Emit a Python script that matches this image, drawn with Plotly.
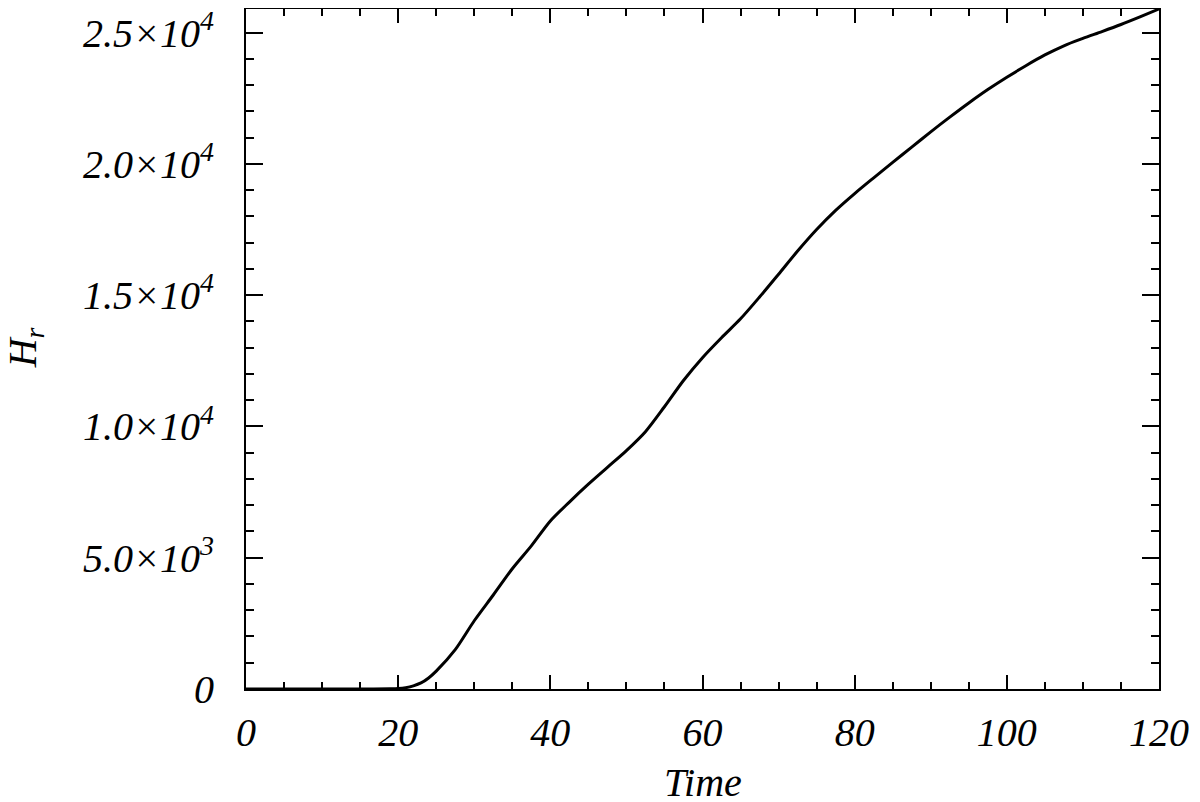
import plotly.graph_objects as go

time = [0, 5, 10, 15, 19, 20, 21, 22, 23, 24, 25, 27.5, 30, 32.5, 35, 37.5, 40,
        42.5, 45, 47.5, 50, 52.5, 55, 57.5, 60, 62.5, 65, 67.5, 70, 72.5, 75,
        77.5, 80, 82.5, 85, 87.5, 90, 92.5, 95, 97.5, 100, 102.5, 105, 107.5,
        110, 112.5, 115, 117.5, 120]
h_r = [0, 0, 0, 0, 5, 15, 50, 120, 230, 420, 680, 1500, 2600, 3580, 4580, 5450,
       6400, 7120, 7800, 8440, 9080, 9800, 10750, 11750, 12620, 13380, 14100,
       14930, 15800, 16680, 17500, 18230, 18870, 19470, 20060, 20640, 21220,
       21780, 22320, 22830, 23300, 23740, 24150, 24500, 24780, 25040, 25310,
       25600, 25900]

x_ticks = [0, 20, 40, 60, 80, 100, 120]
x_ticktext = ["0", "20", "40", "60", "80", "100", "120"]
y_ticks = [0, 5000, 10000, 15000, 20000, 25000]
y_ticktext = ["0", "5.0×10<sup>3</sup>", "1.0×10<sup>4</sup>", "1.5×10<sup>4</sup>",
              "2.0×10<sup>4</sup>", "2.5×10<sup>4</sup>"]
x_minor = [5 * i for i in range(25)]
y_minor = [1000 * i for i in range(26)]

FONT = dict(family="Liberation Serif", size=40, color="black", style="italic")

fig = go.Figure()
fig.add_trace(go.Scatter(x=time, y=h_r, mode="lines",
                         line=dict(color="black", width=3, shape="spline",
                                   smoothing=0.8),
                         showlegend=False, hoverinfo="skip"))

fig.update_xaxes(range=[0, 120], tickmode="array", tickvals=x_ticks,
                 ticktext=x_ticktext, ticks="inside", ticklen=14, tickwidth=2,
                 tickcolor="black", showline=True, linecolor="black",
                 linewidth=2, mirror="allticks", showgrid=False, zeroline=False,
                 tickfont=FONT, ticklabelstandoff=7, ticklabeloverflow="allow",
                 minor=dict(tickmode="array", tickvals=x_minor, ticks="inside",
                            ticklen=7, tickwidth=2, tickcolor="black",
                            showgrid=False))
fig.update_yaxes(range=[0, 25900], tickmode="array", tickvals=y_ticks,
                 ticktext=y_ticktext, ticks="inside", ticklen=17, tickwidth=2,
                 tickcolor="black", showline=True, linecolor="black",
                 linewidth=2, mirror="allticks", showgrid=False, zeroline=False,
                 tickfont=FONT, ticklabelstandoff=22, ticklabeloverflow="allow",
                 minor=dict(tickmode="array", tickvals=y_minor, ticks="inside",
                            ticklen=8, tickwidth=2, tickcolor="black",
                            showgrid=False))

fig.add_annotation(text="Time", xref="paper", yref="paper", x=0.5, y=-0.138,
                   xanchor="center", yanchor="middle", showarrow=False,
                   font=FONT)
fig.add_annotation(text="H<sub>r</sub>", xref="paper", yref="paper", x=-0.242,
                   y=0.501, xanchor="center", yanchor="middle", showarrow=False,
                   textangle=-90, font=FONT)

fig.update_layout(width=1192, height=794, paper_bgcolor="white",
                  plot_bgcolor="white",
                  margin=dict(l=238, r=41, t=1, b=113, autoexpand=False))

fig.write_html("out.html")
